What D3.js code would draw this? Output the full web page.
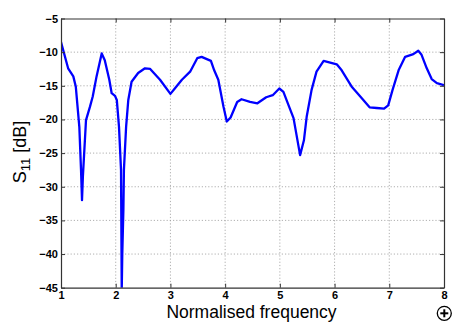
<!DOCTYPE html>
<html>
<head>
<meta charset="utf-8">
<script src="https://cdn.jsdelivr.net/npm/d3@7"></script>
<style>
  html, body { margin: 0; padding: 0; background: #fff; }
  svg { display: block; font-family: "Liberation Sans", Arial, sans-serif; }
</style>
</head>
<body>
<svg id="chart" width="453" height="324"></svg>
<script>
// Reflection coefficient S11 versus normalised frequency
const freq = [1.00, 1.13, 1.225, 1.27, 1.335, 1.366, 1.384, 1.40, 1.457, 1.53, 1.58, 1.65, 1.744, 1.80, 1.883, 1.926, 1.987, 2.02, 2.06, 2.097, 2.11, 2.12, 2.14, 2.15, 2.19, 2.23, 2.29, 2.41, 2.535, 2.63, 2.81, 3.00, 3.08, 3.21, 3.36, 3.49, 3.57, 3.74, 3.80, 3.875, 3.97, 4.03, 4.10, 4.22, 4.30, 4.455, 4.59, 4.75, 4.87, 4.99, 5.065, 5.16, 5.25, 5.37, 5.44, 5.49, 5.58, 5.67, 5.80, 6.04, 6.13, 6.31, 6.47, 6.64, 6.77, 6.905, 6.98, 7.06, 7.17, 7.29, 7.44, 7.53, 7.59, 7.685, 7.775, 7.87, 8.00];
const s11  = [-8.5, -12.4, -13.6, -15.1, -21.1, -27.5, -32.0, -28.5, -20.1, -18.1, -16.6, -13.6, -10.2, -11.2, -14.1, -16.1, -16.5, -17.1, -21.1, -27.5, -45.5, -40.0, -33.5, -27.5, -21.1, -17.1, -14.4, -13.1, -12.4, -12.5, -14.1, -16.2, -15.4, -14.1, -12.9, -10.9, -10.7, -11.3, -12.7, -14.1, -18.1, -20.3, -19.7, -17.4, -17.0, -17.4, -17.6, -16.7, -16.4, -15.4, -15.9, -17.9, -19.8, -25.3, -23.1, -19.6, -15.6, -12.9, -11.3, -11.8, -12.7, -15.1, -16.6, -18.2, -18.3, -18.4, -17.9, -15.6, -12.7, -10.7, -10.3, -9.8, -10.4, -12.4, -14.0, -14.6, -14.9];
const xTicks = [1, 2, 3, 4, 5, 6, 7, 8];
const yTicks = [-45, -40, -35, -30, -25, -20, -15, -10, -5];

const svg = d3.select("#chart");
const box = { left: 61, right: 444, top: 18.5, bottom: 287.7 };

const x = d3.scaleLinear().domain([1, 8]).range([box.left, box.right]);
const y = d3.scaleLinear().domain([-45, -5]).range([box.bottom, box.top]);

// grid
const grid = svg.append("g")
  .attr("stroke", "#9a9a9a").attr("stroke-width", 0.8).attr("stroke-dasharray", "1.2,2");
grid.selectAll(".gx").data(xTicks.slice(1, -1)).join("line")
  .attr("x1", d => x(d)).attr("x2", d => x(d)).attr("y1", box.top).attr("y2", box.bottom);
grid.selectAll(".gy").data(yTicks.slice(1, -1)).join("line")
  .attr("x1", box.left).attr("x2", box.right).attr("y1", d => y(d)).attr("y2", d => y(d));

// curve, clipped to the plot box
svg.append("clipPath").attr("id", "plotclip").append("rect")
  .attr("x", box.left).attr("y", box.top)
  .attr("width", box.right - box.left).attr("height", box.bottom - box.top);
const line = d3.line().x((d, i) => x(freq[i])).y(d => y(d));
svg.append("path").datum(s11)
  .attr("clip-path", "url(#plotclip)")
  .attr("fill", "none").attr("stroke", "#0000ff").attr("stroke-width", 2.3)
  .attr("stroke-linejoin", "round").attr("d", line);

// axes with inward ticks on all four sides
const tickFont = g => g.selectAll("text")
  .attr("font-size", "11px").attr("font-weight", "bold").attr("fill", "#000")
  .attr("font-family", "Liberation Sans, Arial, sans-serif");
const noLabels = () => "";

const xb = svg.append("g").attr("transform", `translate(0,${box.bottom})`)
  .call(d3.axisBottom(x).tickValues(xTicks).tickFormat(d3.format("d")).tickSizeInner(-4).tickSizeOuter(0).tickPadding(4));
xb.call(tickFont);
const xt = svg.append("g").attr("transform", `translate(0,${box.top})`)
  .call(d3.axisTop(x).tickValues(xTicks).tickFormat(noLabels).tickSizeInner(-4).tickSizeOuter(0));
const yl = svg.append("g").attr("transform", `translate(${box.left},0)`)
  .call(d3.axisLeft(y).tickValues(yTicks).tickFormat(d3.format("d")).tickSizeInner(-4).tickSizeOuter(0).tickPadding(3));
yl.call(tickFont);
const yr = svg.append("g").attr("transform", `translate(${box.right},0)`)
  .call(d3.axisRight(y).tickValues(yTicks).tickFormat(noLabels).tickSizeInner(-4).tickSizeOuter(0));

[xb, xt, yl, yr].forEach(g => {
  g.select(".domain").attr("stroke", "#333").attr("stroke-width", 1.2);
  g.selectAll(".tick line").attr("stroke", "#333").attr("stroke-width", 1);
});

// axis titles
svg.append("text")
  .attr("x", (box.left + box.right) / 2 - 1).attr("y", 317.5)
  .attr("text-anchor", "middle").attr("font-size", "17.5px").attr("fill", "#000")
  .text("Normalised frequency");

const yTitle = svg.append("text")
  .attr("transform", "translate(26,152) rotate(-90)")
  .attr("text-anchor", "middle").attr("font-size", "18px").attr("fill", "#000");
yTitle.append("tspan").text("S");
yTitle.append("tspan").attr("font-size", "13px").attr("dy", "4").text("11");
yTitle.append("tspan").attr("dy", "-4").text(" [dB]");

// zoom marker in the corner
const mk = svg.append("g").attr("transform", "translate(444.3,313.3)")
  .attr("stroke", "#000").attr("fill", "none");
mk.append("circle").attr("r", 7).attr("stroke-width", 1.3);
mk.append("line").attr("x1", -4).attr("x2", 4).attr("stroke-width", 2);
mk.append("line").attr("y1", -4).attr("y2", 4).attr("stroke-width", 2);
</script>
</body>
</html>
